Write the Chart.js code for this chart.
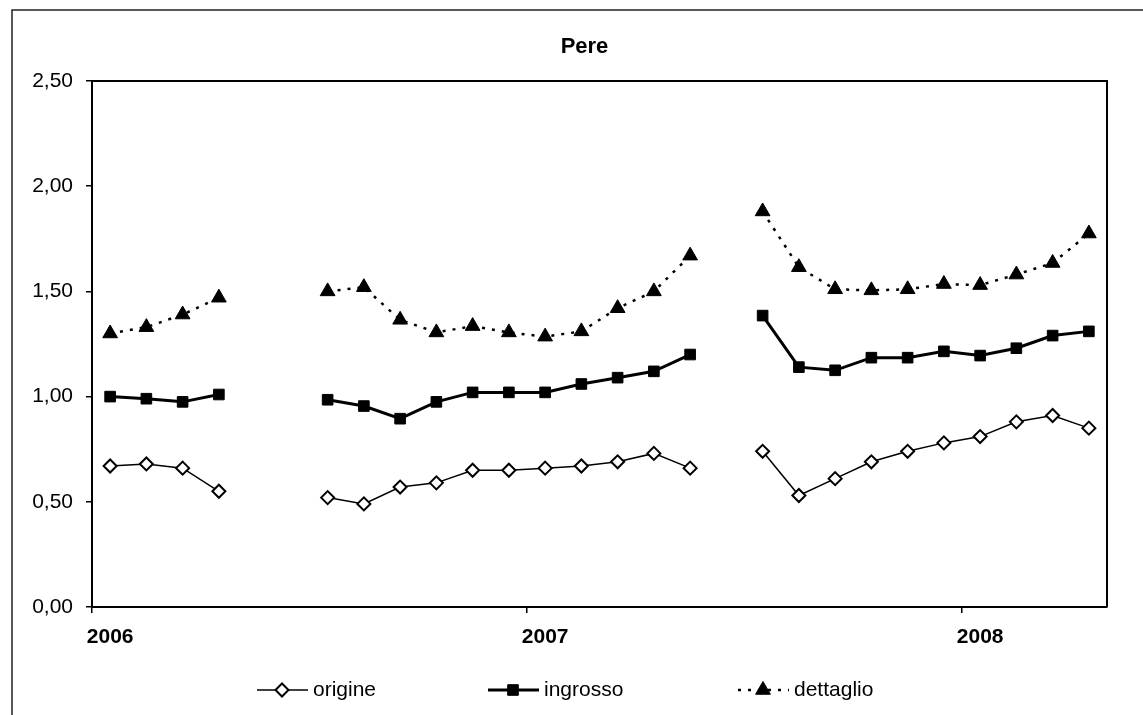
<!DOCTYPE html>
<html>
<head>
<meta charset="utf-8">
<title>Pere</title>
<script src="https://cdn.jsdelivr.net/npm/chart.js@4/dist/chart.umd.min.js"></script>
<style>
  html, body { margin: 0; padding: 0; background: #fff; }
  #wrap { width: 1143px; height: 715px; }
</style>
</head>
<body>
<div id="wrap"><canvas id="chart" width="1143" height="715"></canvas></div>
<script>
// monthly categories, Jan 2006 - Apr 2008
const months = [
    'gen 2006', 'feb 2006', 'mar 2006', 'apr 2006', 'mag 2006', 'giu 2006',
    'lug 2006', 'ago 2006', 'set 2006', 'ott 2006', 'nov 2006', 'dic 2006',
    'gen 2007', 'feb 2007', 'mar 2007', 'apr 2007', 'mag 2007', 'giu 2007',
    'lug 2007', 'ago 2007', 'set 2007', 'ott 2007', 'nov 2007', 'dic 2007',
    'gen 2008', 'feb 2008', 'mar 2008', 'apr 2008'
];
const yearLabels = ['2006', '2007', '2008'];

const origine = [0.67, 0.68, 0.66, 0.55, null, null,
    0.52, 0.49, 0.57, 0.59, 0.65, 0.65, 0.66, 0.67, 0.69, 0.73, 0.66, null,
    0.74, 0.53, 0.61, 0.69, 0.74, 0.78, 0.81, 0.88, 0.91, 0.85];
const ingrosso = [1.00, 0.99, 0.975, 1.01, null, null,
    0.985, 0.955, 0.895, 0.975, 1.02, 1.02, 1.02, 1.06, 1.09, 1.12, 1.20, null,
    1.385, 1.14, 1.125, 1.185, 1.185, 1.215, 1.195, 1.23, 1.29, 1.31];
const dettaglio = [1.30, 1.33, 1.39, 1.47, null, null,
    1.50, 1.52, 1.365, 1.305, 1.335, 1.305, 1.285, 1.31, 1.42, 1.50, 1.67, null,
    1.88, 1.615, 1.51, 1.505, 1.51, 1.535, 1.53, 1.58, 1.635, 1.775];

const FONT = 'Liberation Sans, Arial, sans-serif';

// frame, plot border, title and legend (legend = line + marker + text)
const decor = {
    id: 'decor',
    beforeDraw(chart) {
        const c = chart.ctx;
        c.save();
        c.fillStyle = '#fff';
        c.fillRect(0, 0, chart.width, chart.height);
        c.strokeStyle = '#222';
        c.lineWidth = 1.5;
        c.beginPath();
        c.moveTo(12, chart.height + 5);
        c.lineTo(12, 10);
        c.lineTo(chart.width + 5, 10);
        c.stroke();
        c.restore();
    },
    afterDraw(chart) {
        const c = chart.ctx;
        const a = chart.chartArea;
        c.save();
        c.strokeStyle = '#000';
        c.lineWidth = 2;
        c.beginPath();
        c.moveTo(a.left, a.top);
        c.lineTo(a.right, a.top);
        c.lineTo(a.right, a.bottom);
        c.stroke();

        c.fillStyle = '#000';
        c.font = 'bold 22px ' + FONT;
        c.textAlign = 'center';
        c.textBaseline = 'middle';
        c.fillText('Pere', (a.left + a.right) / 2 - 15, 47);

        const centers = [282, 513, 763];
        const ly = 690;
        c.font = '21px ' + FONT;
        c.textAlign = 'left';
        chart.data.datasets.forEach((ds, i) => {
            const cx = centers[i];
            c.save();
            c.strokeStyle = '#000';
            c.lineWidth = ds.borderWidth;
            c.setLineDash(ds.borderDash || []);
            c.beginPath();
            c.moveTo(cx - 25, ly);
            c.lineTo(cx + 26, ly);
            c.stroke();
            c.setLineDash([]);
            c.fillStyle = ds.pointBackgroundColor;
            c.strokeStyle = '#000';
            c.lineWidth = ds.pointBorderWidth;
            Chart.helpers.drawPoint(c, {
                pointStyle: ds.pointStyle,
                radius: ds.pointRadius,
                rotation: 0,
                borderWidth: ds.pointBorderWidth
            }, cx, ly);
            c.restore();
            c.fillStyle = '#000';
            c.fillText(ds.label, cx + 31, ly);
        });
        c.restore();
    }
};

new Chart(document.getElementById('chart'), {
    type: 'line',
    data: {
        labels: months,
        datasets: [
            {
                label: 'origine',
                data: origine,
                borderColor: '#000',
                borderWidth: 1.5,
                pointStyle: 'rectRot',
                pointRadius: 6.5,
                pointBorderWidth: 2,
                pointBackgroundColor: '#fff',
                pointBorderColor: '#000'
            },
            {
                label: 'ingrosso',
                data: ingrosso,
                borderColor: '#000',
                borderWidth: 3,
                pointStyle: 'rect',
                pointRadius: 7.5,
                pointBorderWidth: 1,
                pointBackgroundColor: '#000',
                pointBorderColor: '#000'
            },
            {
                label: 'dettaglio',
                data: dettaglio,
                borderColor: '#000',
                borderWidth: 2.5,
                borderDash: [3, 7],
                pointStyle: 'triangle',
                pointRadius: 8.5,
                pointBorderWidth: 1,
                pointBackgroundColor: '#000',
                pointBorderColor: '#000'
            }
        ]
    },
    options: {
        responsive: false,
        animation: false,
        spanGaps: false,
        elements: { line: { tension: 0 } },
        layout: { padding: { top: 81, right: 36, bottom: 0, left: 0 } },
        plugins: {
            legend: { display: false },
            title: { display: false },
            tooltip: { enabled: false }
        },
        scales: {
            x: {
                offset: true,
                afterFit: (s) => { s.height = 108; },
                border: { display: true, color: '#000', width: 2 },
                grid: {
                    offset: true,
                    drawOnChartArea: false,
                    drawTicks: true,
                    tickLength: 6,
                    color: (ctx) => (ctx.index !== undefined && ctx.index % 12 === 0) ? '#000' : 'rgba(0,0,0,0)',
                    lineWidth: 1.5
                },
                ticks: {
                    autoSkip: false,
                    maxRotation: 0,
                    padding: 12,
                    color: '#000',
                    font: { family: FONT, size: 21, weight: 'bold' },
                    callback: (v, i) => (i % 12 === 0 ? yearLabels[i / 12] : '')
                }
            },
            y: {
                min: 0,
                max: 2.5,
                afterFit: (s) => { s.width = 92; },
                border: { display: true, color: '#000', width: 2 },
                grid: {
                    drawOnChartArea: false,
                    drawTicks: true,
                    tickLength: 6,
                    color: '#000',
                    lineWidth: 1.5
                },
                ticks: {
                    stepSize: 0.5,
                    padding: 13,
                    color: '#000',
                    font: { family: FONT, size: 21 },
                    callback: (v) => v.toFixed(2).replace('.', ',')
                }
            }
        }
    },
    plugins: [decor]
});
</script>
</body>
</html>
